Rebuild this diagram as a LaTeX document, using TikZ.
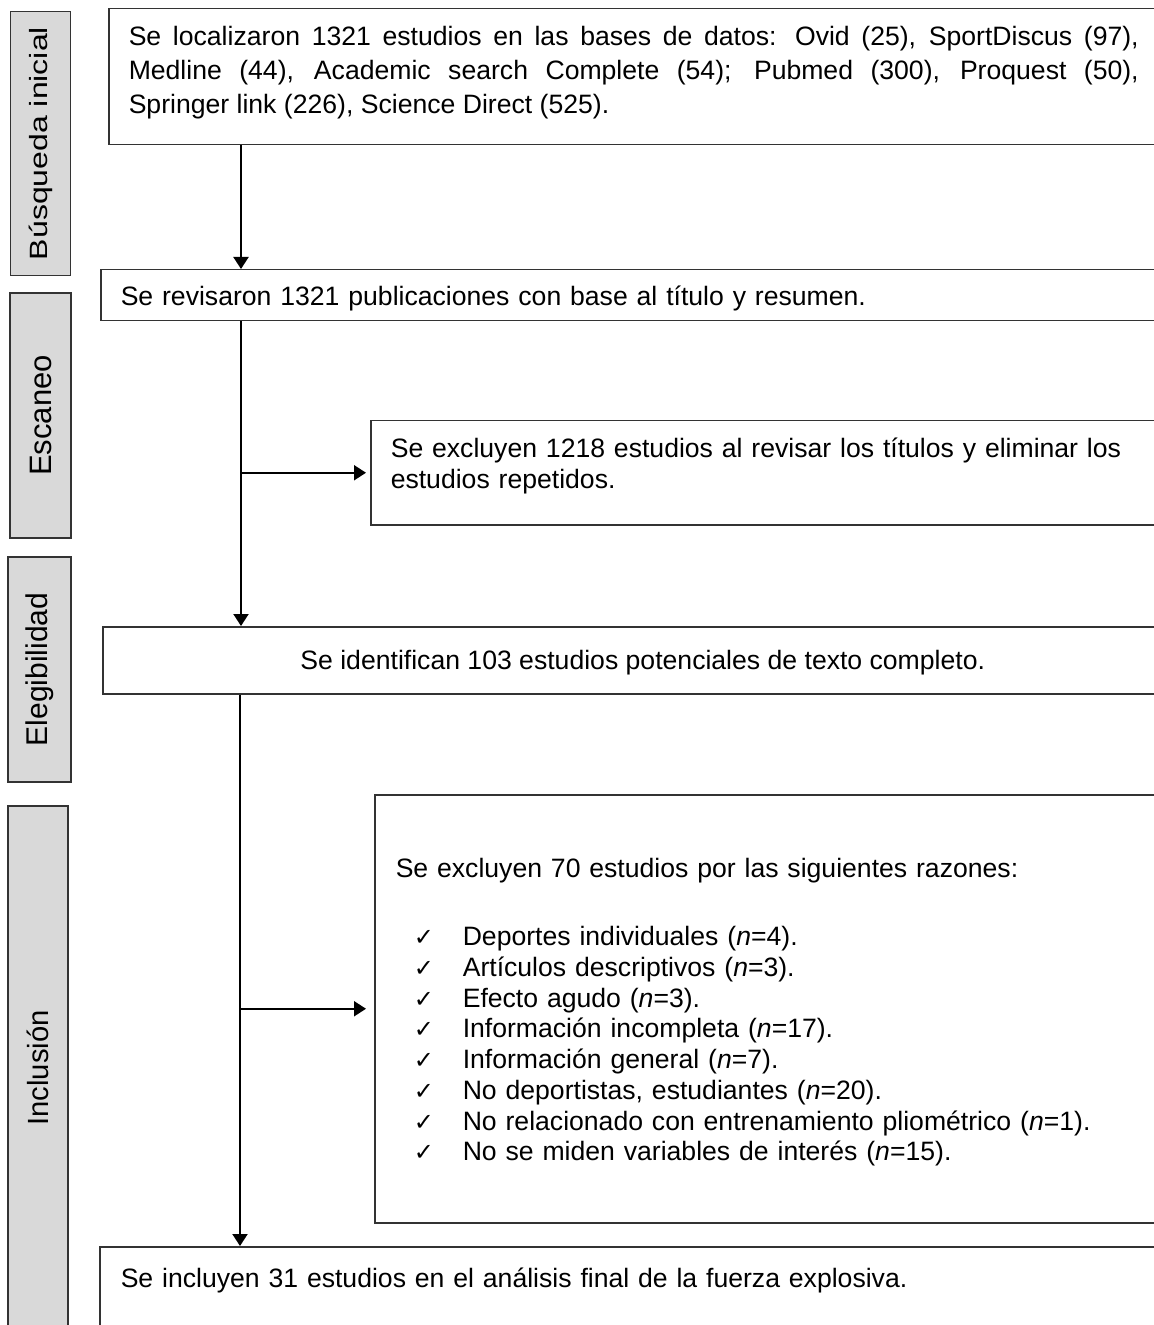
\documentclass[tikz,border=0pt]{standalone}
\usepackage{fontspec}
\usepackage{graphicx}
\setmainfont{Liberation Sans}
\newfontfamily\symfont{DejaVu Sans}
\usetikzlibrary{arrows.meta,positioning}

\tikzset{
fase/.style={draw=black!80,fill=black!15,line width=0.75pt,rectangle,rotate=90,inner sep=0pt},
caja/.style={draw=black!80,line width=0.75pt,rectangle,anchor=north west,inner ysep=0pt,inner xsep=10pt,align=left},
flecha/.style={line width=1pt,-{Triangle[length=6pt,width=7.5pt]}},
}

\newcommand{\ok}{\makebox[33.5pt][l]{\hspace*{9pt}{\symfont\fontsize{12}{12}\selectfont ✓}}}

\begin{document}
\begin{tikzpicture}[x=0.5pt,y=-0.5pt]
\useasboundingbox (0,0) rectangle (1154,1325);
\clip (0,0) rectangle (1154,1325);

\newcommand{\fase}[7]
{
\node[fase,minimum width=#4,minimum height=#5,font=\fontsize{#6}{#6}\selectfont] (#1) at (#2,#3) {#7};
}

\fase{busqueda}{40.5}{143.5}{132pt}{30pt}{12.5}{\scalebox{1.28}[1]{Búsqueda inicial}}
\fase{escaneo}{40.5}{415.5}{122.5pt}{30.5pt}{15.5}{Escaneo}
\fase{elegib}{39.5}{669.5}{112.5pt}{31.5pt}{15}{Elegibilidad}
\fase{inclus}{38}{1068}{262pt}{30pt}{14.6}{Inclusión}

\node[caja,align=justify,text width=505pt,text height=18.5pt,text depth=49.5pt,
font=\fontsize{13.3}{17}\selectfont] (busca) at (108,8)
{Se localizaron 1321 estudios en las bases de datos: Ovid (25), SportDiscus (97),\linebreak
Medline (44), Academic search Complete (54); Pubmed (300), Proquest (50),\linebreak
Springer link (226), Science Direct (525).};

\node[caja,text width=515pt,text height=18pt,text depth=7.5pt,
font=\fontsize{13.3}{17}\selectfont] (revisa) at (100,269)
{Se revisaron 1321 publicaciones con base al título y resumen.};

\node[caja,text width=380pt,text height=18.5pt,text depth=33.5pt,
font=\fontsize{13.3}{15.5}\selectfont] (excluye1) at (370,420)
{Se excluyen 1218 estudios al revisar los títulos y eliminar los\\
estudios repetidos.};

\node[caja,align=center,minimum width=540pt,text height=21.5pt,text depth=12pt,
font=\fontsize{13.3}{17}\selectfont] (identif) at (102,626)
{Se identifican 103 estudios potenciales de texto completo.};

\node[caja,inner xsep=10.5pt,text width=380pt,text height=41.5pt,text depth=172.5pt,
font=\fontsize{13.3}{15.36}\selectfont] (excluye2) at (374,794)
{Se excluyen 70 estudios por las siguientes razones:\\[18.64pt]
\ok Deportes individuales (\textit{n}=4).\\
\ok Artículos descriptivos (\textit{n}=3).\\
\ok Efecto agudo (\textit{n}=3).\\
\ok Información incompleta (\textit{n}=17).\\
\ok Información general (\textit{n}=7).\\
\ok No deportistas, estudiantes (\textit{n}=20).\\
\ok No relacionado con entrenamiento pliométrico (\textit{n}=1).\\
\ok No se miden variables de interés (\textit{n}=15).};

\node[caja,inner xsep=10.5pt,text width=515pt,text height=20.5pt,text depth=26.5pt,
font=\fontsize{13.3}{17}\selectfont] (incluye) at (99,1246)
{Se incluyen 31 estudios en el análisis final de la fuerza explosiva.};

\coordinate (eje) at (241,0);
\coordinate (eje2) at (240,0);

\draw[flecha] (busca.south -| eje) -- (revisa.north -| eje);
\draw[flecha] (revisa.south -| eje) -- (identif.north -| eje);
\draw[flecha,shorten >=2pt] (eje |- excluye1.west) -- (excluye1.west);
\draw[flecha] (identif.south -| eje2) -- (incluye.north -| eje2);
\draw[flecha,shorten >=4pt] (eje2 |- excluye2.west) -- (excluye2.west);

\end{tikzpicture}
\end{document}
